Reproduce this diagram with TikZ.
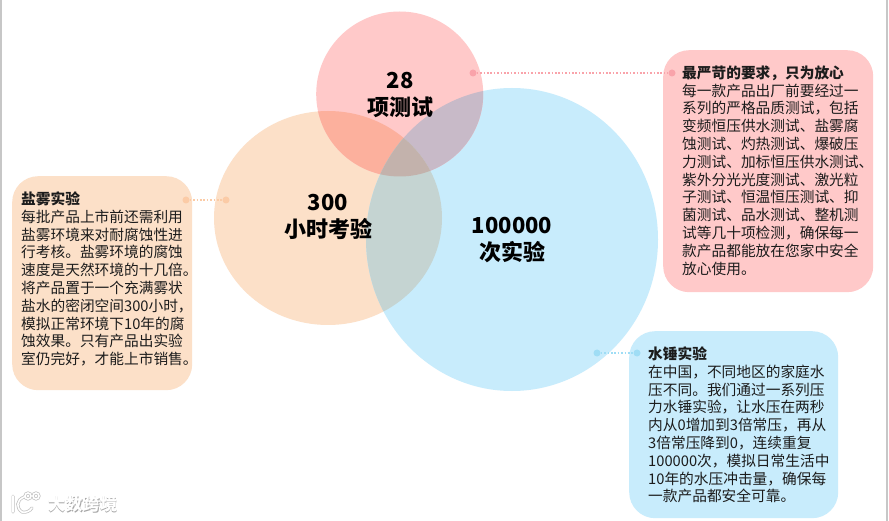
\documentclass[tikz,border=0pt]{standalone}
\usepackage{fontspec}
\setmainfont{Noto Sans CJK SC}
\setsansfont{Noto Sans CJK SC}
\definecolor{pinkc}{HTML}{FFC9C9}
\definecolor{orangec}{HTML}{FCE0C8}
\definecolor{bluec}{HTML}{C8ECFC}
\definecolor{pinkorange}{HTML}{FCB09D}
\definecolor{pinkblue}{HTML}{C8BAC8}
\definecolor{orangeblue}{HTML}{C5D4D2}
\definecolor{triplec}{HTML}{C3B2AC}
\definecolor{pinkdot}{HTML}{F9A3AA}
\definecolor{orangedot}{HTML}{FBCBA6}
\definecolor{bluedot}{HTML}{9FDDF5}
\definecolor{inkc}{HTML}{1C1C1C}
\tikzset{
  x=1pt,y=-1pt,
  cardbox/.style={draw=none,rounded corners=26pt,inner sep=0pt,anchor=north west},
  cardtext/.style={anchor=north west,inner sep=0pt,align=left,text=inkc,
    font=\fontsize{14.7pt}{17.8pt}\selectfont},
  bigtext/.style={inner sep=0pt,align=center,text=black,
    font=\fontsize{22pt}{26.5pt}\selectfont\bfseries},
  leaderdot/.style={circle,inner sep=0pt,minimum size=7pt},
  leader/.style={dash pattern=on 1.6pt off 1.8pt,line width=1.4pt},
}
\begin{document}
\begin{tikzpicture}
\useasboundingbox (0,0) rectangle (889,521);
\fill[white] (0,0) rectangle (889,521);
\fill[black!22] (0,0) rectangle (2,521);
\fill[black!22] (885.5,0) rectangle (888,521);
% circles
\def\cirP{(399.7,94) ellipse (83.5pt and 82.5pt)}
\def\cirO{(328,218) ellipse (114pt and 107pt)}
\def\cirB{(512,239.5) ellipse (146pt and 151.5pt)}
\fill[orangec] \cirO;
\fill[bluec] \cirB;
\fill[pinkc] \cirP;
\begin{scope}\clip \cirP; \fill[pinkorange] \cirO; \fill[pinkblue] \cirB; \end{scope}
\begin{scope}\clip \cirO; \fill[orangeblue] \cirB; \end{scope}
\begin{scope}\clip \cirP; \clip \cirO; \fill[triplec] \cirB; \end{scope}
% cards
\node[cardbox,fill=orangec,minimum width=180pt,minimum height=214pt] (cardO) at (12,176) {};
\node[cardbox,fill=pinkc,minimum width=210pt,minimum height=242pt] (cardP) at (663,50) {};
\node[cardbox,fill=bluec,minimum width=209pt,minimum height=187pt] (cardB) at (629,331) {};
% leaders
\node[leaderdot,fill=orangedot] (dO1) at (186,200) {};
\node[leaderdot,fill=orangedot] (dO2) at (226,200) {};
\draw[leader,draw=orangedot] (dO1) -- (dO2);
\node[leaderdot,fill=pinkdot] (dP1) at (473,73) {};
\node[leaderdot,fill=pinkdot] (dP2) at (672,73) {};
\draw[leader,draw=pinkdot] (dP1) -- (dP2);
\node[leaderdot,fill=bluedot] (dB1) at (597,353) {};
\node[leaderdot,fill=bluedot] (dB2) at (637,353) {};
\draw[leader,draw=bluedot] (dB1) -- (dB2);
% big labels
\node[bigtext] (tP) at (400,95) {28\\项测试};
\node[bigtext] (tO) at (328,217) {300\\小时考验};
\node[bigtext] (tB) at (512,240) {100000\\次实验};
% card text
\node[cardtext] (xO) at (21,191.5) {\textbf{盐雾实验}\\每批产品上市前还需利用\\盐雾环境来对耐腐蚀性进\\行考核。盐雾环境的腐蚀\\速度是天然环境的十几倍。\\将产品置于一个充满雾状\\盐水的密闭空间300小时，\\模拟正常环境下10年的腐\\蚀效果。只有产品出实验\\室仍完好，才能上市销售。};
\node[cardtext] (xP) at (682,65.5) {\textbf{最严苛的要求，只为放心}\\每一款产品出厂前要经过一\\系列的严格品质测试，包括\\变频恒压供水测试、盐雾腐\\蚀测试、灼热测试、爆破压\\力测试、加标恒压供水测试、\\紫外分光光度测试、激光粒\\子测试、恒温恒压测试、抑\\菌测试、品水测试、整机测\\试等几十项检测，确保每一\\款产品都能放在您家中安全\\放心使用。};
\node[cardtext] (xB) at (648,346.5) {\textbf{水锤实验}\\在中国，不同地区的家庭水\\压不同。我们通过一系列压\\力水锤实验，让水压在两秒\\内从0增加到3倍常压，再从\\3倍常压降到0，连续重复\\100000次，模拟日常生活中\\10年的水压冲击量，确保每\\一款产品都安全可靠。};
% watermark
\node[inner sep=0pt,anchor=west,text=black!35,font=\fontsize{17.3pt}{18pt}\selectfont\bfseries] (wmS) at (48.6,504.6) {大数跨境};
\node[inner sep=0pt,anchor=west,text=white,font=\fontsize{17.3pt}{18pt}\selectfont\bfseries] (wm) at (48,504) {大数跨境};
\begin{scope}[line cap=round]
\draw[black!25,line width=3pt] (13,496) -- (13,512) (24,497) .. controls (16,500) and (16,508) .. (22,512) .. controls (26,513) and (30,511) .. (32,508) (28,496) circle (3pt) (36,496) circle (3pt);
\draw[white,line width=1.6pt] (13,496) -- (13,512) (24,497) .. controls (16,500) and (16,508) .. (22,512) .. controls (26,513) and (30,511) .. (32,508) (28,496) circle (3pt) (36,496) circle (3pt);
\end{scope}
\end{tikzpicture}
\end{document}
